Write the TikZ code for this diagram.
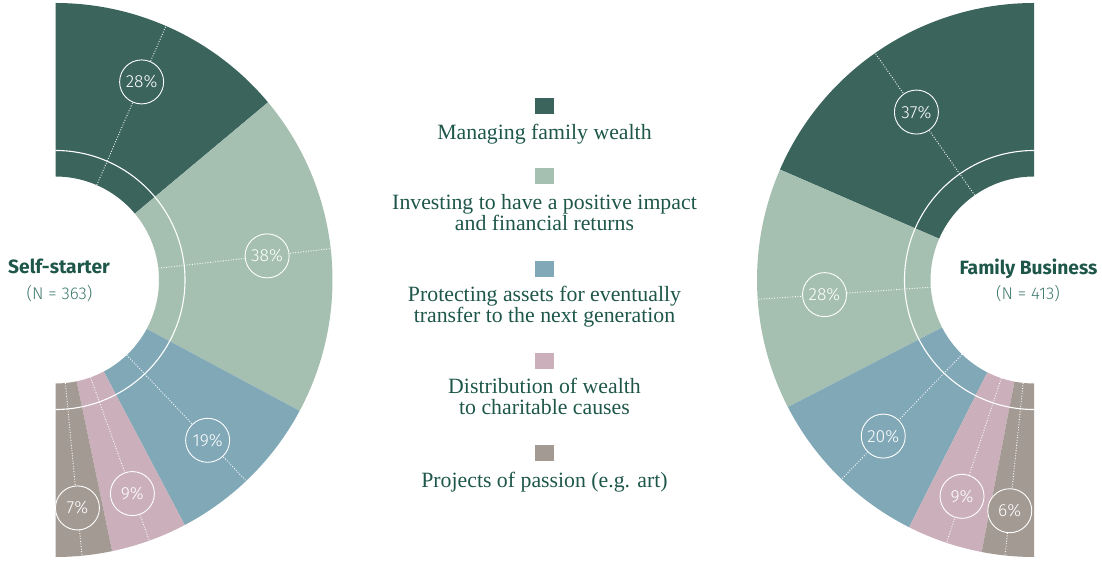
\documentclass[tikz,border=0pt]{standalone}
\usepackage{fontspec}
\setmainfont{Liberation Serif}
\newfontfamily\sansfam{Fira Sans}
\newfontfamily\thinfam{Fira Sans}[UprightFont=* Light]
\usepackage{tikz}

\definecolor{wealth}{HTML}{3A645C}
\definecolor{impact}{HTML}{A5C0B1}
\definecolor{assets}{HTML}{81A8B7}
\definecolor{charity}{HTML}{CBB0BB}
\definecolor{passion}{HTML}{A39A93}
\definecolor{ink}{HTML}{1E574A}
\definecolor{inklight}{HTML}{3F7A6E}

\newcommand\pctfont{\thinfam\fontsize{17.5}{18}\selectfont}
\newcommand\legfont{\fontsize{21.8}{21.4}\selectfont}
\newcommand\groupfont{\sansfam\bfseries\fontsize{19.2}{20}\selectfont}
\newcommand\countfont{\thinfam\fontsize{17}{18}\selectfont}

\begin{document}
\begin{tikzpicture}[
  x=1pt, y=1pt,
  guide/.style={white, line width=0.9pt, dash pattern=on 0.9pt off 1.7pt},
  ring/.style={white, line width=1.1pt},
  pct/.style={circle, draw=white, line width=0.9pt, fill=#1, minimum size=44pt,
    inner sep=0pt, text=white, font=\pctfont},
  swatch/.style={fill=#1, minimum width=19pt, minimum height=16pt, inner sep=0pt},
  legtext/.style={text=ink, align=center, font=\legfont, anchor=base},
  group/.style={text=ink, font=\groupfont, anchor=base},
  count/.style={text=inklight, font=\countfont, anchor=base}
]
\useasboundingbox (0,0) rectangle (1102,561);

% self-starter half ring
\begin{scope}[shift={(55.5,281)}]
  \foreach \from/\to/\col in {90/39.9/wealth, 39.9/-28.2/impact, -28.2/-62.2/assets,
      -62.2/-78.2/charity, -78.2/-90/passion} {
    \fill[\col] (\from:277pt) arc[start angle=\from, end angle=\to, radius=277pt]
      -- (\to:103.5pt) arc[start angle=\to, end angle=\from, radius=103.5pt] -- cycle;
  }
  \draw[ring] (90:129.5pt) arc[start angle=90, end angle=-90, radius=129.5pt];
  \foreach \ang/\rad/\col/\val [count=\i] in {66.5/216/wealth/28, 6.5/213/impact/38,
      -46.5/221/assets/19, -70.2/227/charity/9, -84.5/229/passion/7} {
    \coordinate (ss-in-\i) at (\ang:103.5pt);
    \coordinate (ss-out-\i) at (\ang:277pt);
    \draw[guide] (ss-in-\i) -- (ss-out-\i);
    \node[pct=\col] (ss-\i) at (\ang:\rad pt) {\val\%};
  }
\end{scope}
\node[group] (ss-name) at (59,287.5) {Self-starter};
\node[count] (ss-n) at (59.5,261) {(N = 363)};

% family business half ring
\begin{scope}[shift={(1034,281)}]
  \foreach \from/\to/\col in {90/156.5/wealth, 156.5/207.3/impact, 207.3/243.2/assets,
      243.2/259.1/charity, 259.1/270/passion} {
    \fill[\col] (\from:277pt) arc[start angle=\from, end angle=\to, radius=277pt]
      -- (\to:103.5pt) arc[start angle=\to, end angle=\from, radius=103.5pt] -- cycle;
  }
  \draw[ring] (90:129.5pt) arc[start angle=90, end angle=270, radius=129.5pt];
  \foreach \ang/\rad/\col/\val [count=\i] in {125/205/wealth/37, 184/210/impact/28,
      226/217/assets/20, 251.6/228/charity/9, 264/232/passion/6} {
    \coordinate (fb-in-\i) at (\ang:103.5pt);
    \coordinate (fb-out-\i) at (\ang:277pt);
    \draw[guide] (fb-in-\i) -- (fb-out-\i);
    \node[pct=\col] (fb-\i) at (\ang:\rad pt) {\val\%};
  }
\end{scope}
\node[group] (fb-name) at (1028.5,286) {Family Business};
\node[count] (fb-n) at (1028,261) {(N = 413)};

% legend (text placed by the baseline of its last line)
\foreach \col/\ys/\yt/\txt [count=\i] in {
    wealth/455/421.7/{Managing family wealth},
    impact/385/330.3/{Investing to have a positive impact\\and financial returns},
    assets/292/238.3/{Protecting assets for eventually\\transfer to the next generation},
    charity/200/146/{Distribution of wealth\\to charitable causes},
    passion/108/73.7/{Projects of passion (e.g. art)}} {
  \node[swatch=\col] (key-\i) at (544.5,\ys) {};
  \node[legtext] (txt-\i) at (544.5,\yt) {\txt};
}
\end{tikzpicture}
\end{document}
